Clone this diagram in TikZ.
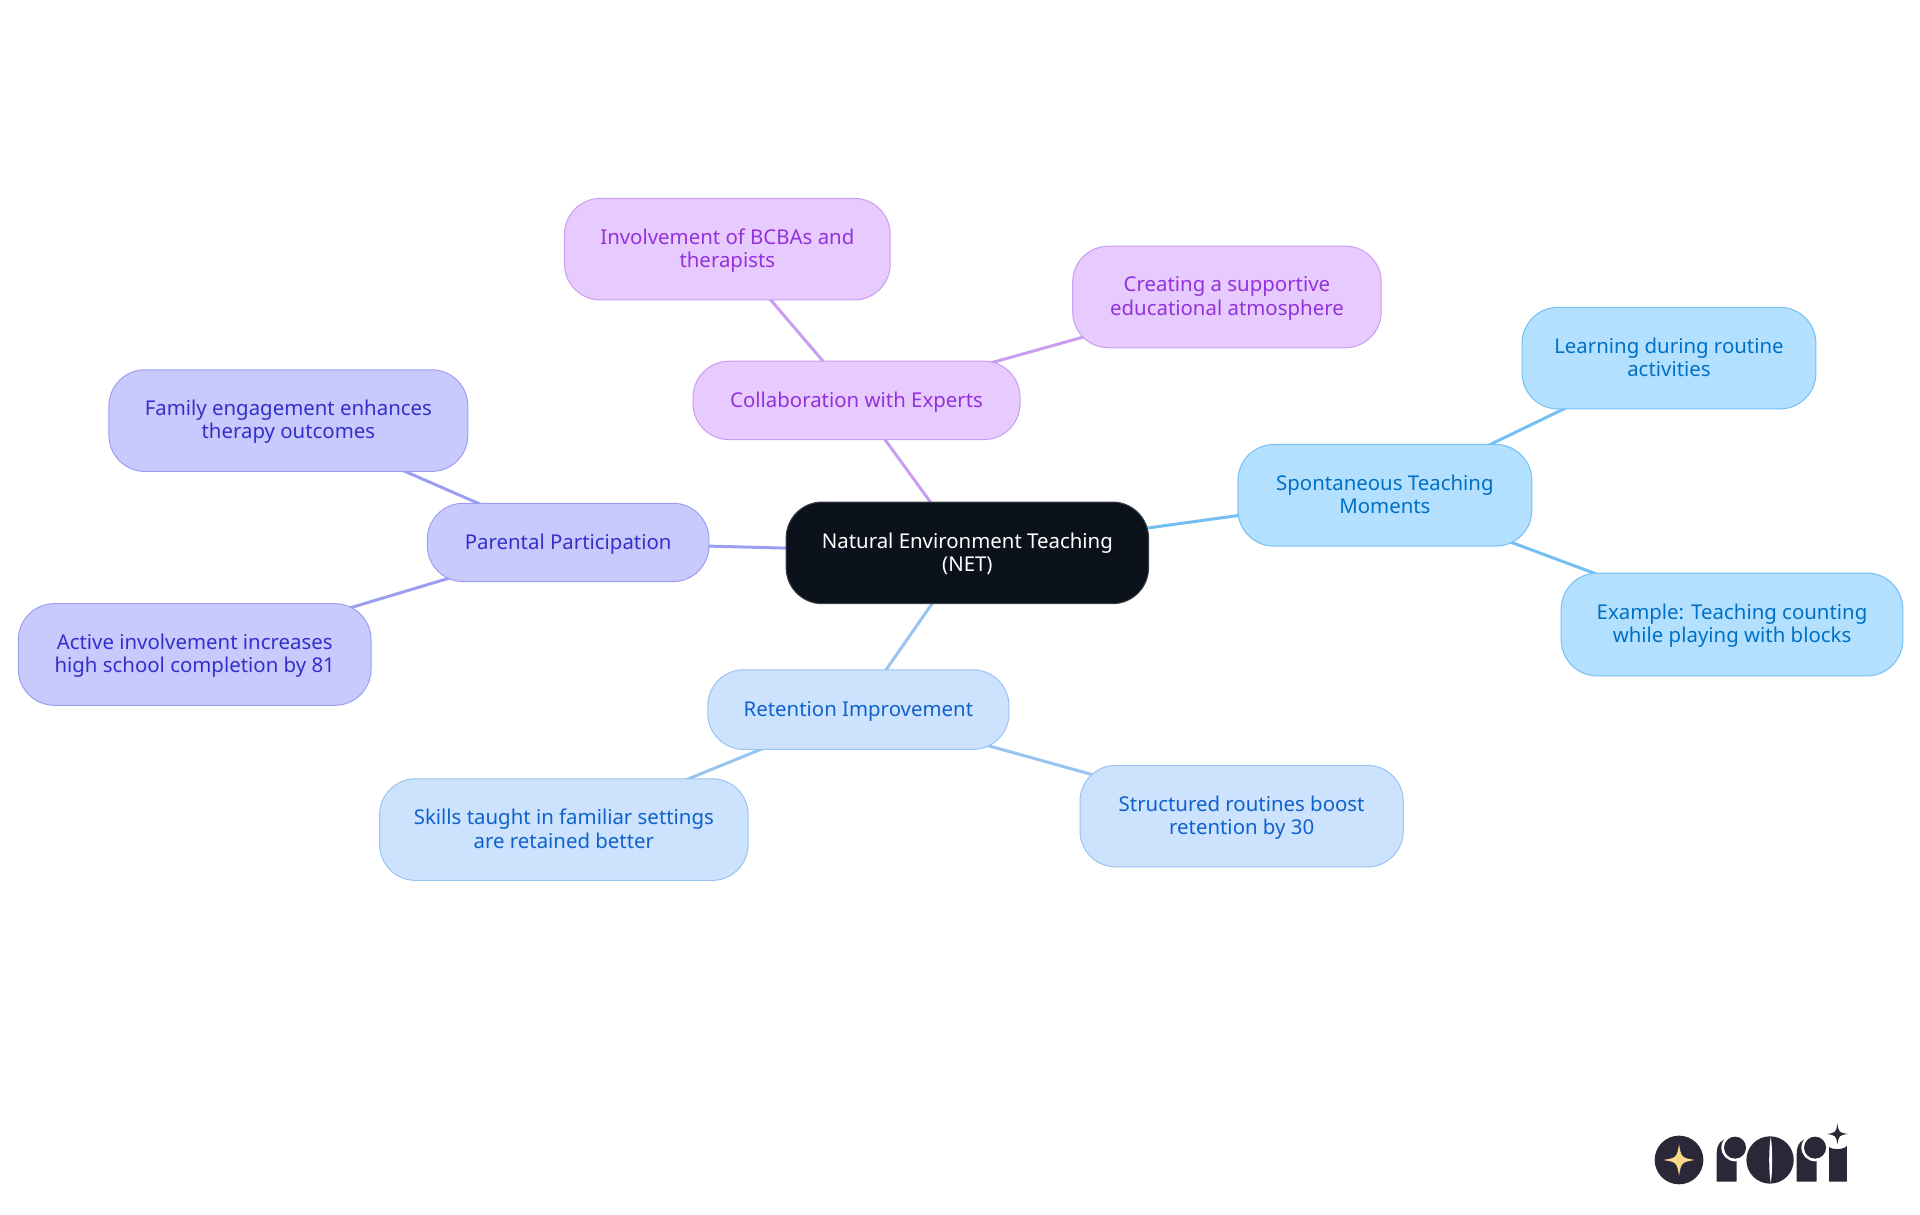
\documentclass[tikz,border=0pt]{standalone}
\usepackage{fontspec}
\setmainfont{Noto Sans}
\usetikzlibrary{backgrounds}
\definecolor{darkfill}{HTML}{0B121B}
\definecolor{purplefill}{HTML}{E7CBFE}
\definecolor{purpleline}{HTML}{C99DF1}
\definecolor{purpletext}{HTML}{9331DC}
\definecolor{skyfill}{HTML}{B3E0FF}
\definecolor{skyline}{HTML}{75BFF2}
\definecolor{skytext}{HTML}{0070C4}
\definecolor{indigofill}{HTML}{C8CAFD}
\definecolor{indigoline}{HTML}{9C9FF1}
\definecolor{indigotext}{HTML}{342FC9}
\definecolor{bluefill}{HTML}{CCE2FD}
\definecolor{blueline}{HTML}{97C4F1}
\definecolor{bluetext}{HTML}{0F62CC}
\definecolor{logodark}{HTML}{2A2838}
\definecolor{logostar}{HTML}{FBD98A}
\tikzset{
  topic/.style={rounded corners=18pt, draw, line width=0.5pt, align=center, inner sep=0pt,
    text depth=1pt, font=\fontsize{10.2}{11.6}\selectfont},
  rootbox/.style={topic, fill=darkfill, draw=darkfill!80!white, text=white},
  purplebox/.style={topic, fill=purplefill, draw=purpleline, text=purpletext},
  skybox/.style={topic, fill=skyfill, draw=skyline, text=skytext},
  indigobox/.style={topic, fill=indigofill, draw=indigoline, text=indigotext},
  bluebox/.style={topic, fill=bluefill, draw=blueline, text=bluetext},
  link/.style={line width=1.5pt},
  size/.style 2 args={minimum width=#1*0.6122pt, minimum height=#2*0.6122pt},
}
\newcommand{\sparkle}[3]{%
  \fill[#3, shift={(#1,#2)}] (-48,0) .. controls (-8,-6) and (-6,-8) .. (0,-48)
    .. controls (6,-8) and (8,-6) .. (48,0)
    .. controls (8,6) and (6,8) .. (0,48)
    .. controls (-6,8) and (-8,6) .. (-48,0) -- cycle;}
\begin{document}
\begin{tikzpicture}[x=0.6122pt, y=-0.6122pt]
    \useasboundingbox (0,0) rectangle (1568,992.2);
    % Root:
    \node[rootbox, size={296}{83}] (net) at (790,451.5) {Natural Environment Teaching\\(NET)};
    % Collaboration:
    \node[purplebox, size={267}{64}] (collab) at (699.5,327) {Collaboration with Experts};
    \node[purplebox, size={266}{83}] (bcba) at (594,203.5) {Involvement of BCBAs and\\therapists};
    \node[purplebox, size={252}{83}] (atmos) at (1002,242.5) {Creating a supportive\\educational atmosphere};
    % Spontaneous:
    \node[skybox, size={240}{83}] (spont) at (1131,404.5) {Spontaneous Teaching\\Moments};
    \node[skybox, size={240}{83}] (routine) at (1363,292.5) {Learning during routine\\activities};
    \node[skybox, size={279}{84}] (blocks) at (1414.5,510) {Example: Teaching counting\\while playing with blocks};
    % Parental:
    \node[indigobox, size={230}{64}] (parent) at (464,443) {Parental Participation};
    \node[indigobox, size={293}{83}] (family) at (235.5,343.5) {Family engagement enhances\\therapy outcomes};
    \node[indigobox, size={288}{83}] (active) at (159,534.5) {Active involvement increases\\high school completion by 81};
    % Retention:
    \node[bluebox, size={246}{65}] (retain) at (701,579.5) {Retention Improvement};
    \node[bluebox, size={301}{83}] (skills) at (460.5,677.5) {Skills taught in familiar settings\\are retained better};
    \node[bluebox, size={264}{83}] (struct) at (1014,666.5) {Structured routines boost\\retention by 30};
    % Links:
    \begin{scope}[on background layer]
      \draw[link, purpleline] (net.center) -- (collab.center);
      \draw[link, purpleline] (collab.center) -- (bcba.center);
      \draw[link, purpleline] (collab.center) -- (atmos.center);
      \draw[link, skyline] (net.center) -- (spont.center);
      \draw[link, skyline] (spont.center) -- (routine.center);
      \draw[link, skyline] (spont.center) -- (blocks.center);
      \draw[link, indigoline] (net.center) -- (parent.center);
      \draw[link, indigoline] (parent.center) -- (family.center);
      \draw[link, indigoline] (parent.center) -- (active.center);
      \draw[link, blueline] (net.center) -- (retain.center);
      \draw[link, blueline] (retain.center) -- (skills.center);
      \draw[link, blueline] (retain.center) -- (struct.center);
    \end{scope}
    % Logo:
    \begin{scope}[shift={(1323,898.3)}, x=0.1667pt, y=-0.1667pt]
      \fill[logodark] (177,180) circle (73);
      \sparkle{177}{180}{logostar}
      % first r
      \fill[logodark] (290,245) -- (290,160) .. controls (290,132) and (305,115) .. (330,115)
        -- (350,115) -- (350,245) -- cycle;
      \fill[white] (345,143) circle (41);
      \fill[logodark] (345,143) circle (33);
      % o
      \fill[logodark] (450,180) circle (71);
      \fill[white] (452,110) .. controls (446,150) and (446,210) .. (452,250)
        .. controls (458,210) and (458,150) .. (452,110) -- cycle;
      % second r
      \fill[logodark] (530,245) -- (530,160) .. controls (530,132) and (545,115) .. (570,115)
        -- (590,115) -- (590,245) -- cycle;
      \fill[white] (585,143) circle (41);
      \fill[logodark] (585,143) circle (33);
      % i
      \fill[logodark] (627,245) -- (627,140) .. controls (632,150) and (672,150) .. (680,138)
        -- (680,245) -- cycle;
      \begin{scope}[shift={(652,102)}, scale=0.65]
        \sparkle{0}{0}{logodark}
      \end{scope}
    \end{scope}
\end{tikzpicture}
\end{document}
